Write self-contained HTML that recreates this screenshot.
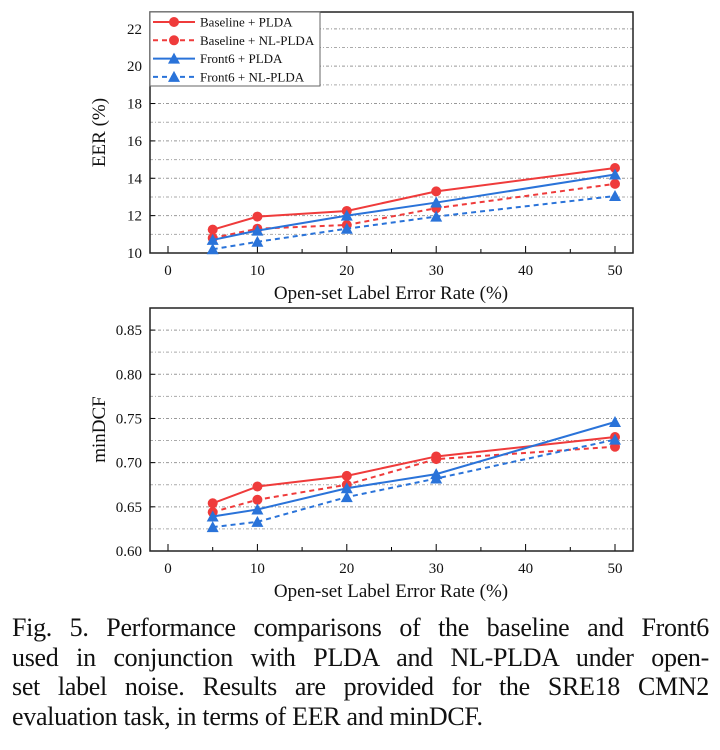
<!DOCTYPE html>
<html><head><meta charset="utf-8"><style>
body{margin:0;width:720px;height:750px;background:#fff;overflow:hidden;font-family:"Liberation Serif",serif}
#cap{position:absolute;left:12px;top:613px;width:697px;font-size:26px;line-height:29.5px;color:#111;letter-spacing:-0.3px}
#cap div{text-align:justify;text-align-last:justify;white-space:nowrap}
#cap div.last{text-align-last:left}
</style></head><body>
<svg id="svg" width="720" height="610" style="position:absolute;left:0;top:0" font-family="Liberation Serif, serif"></svg>
<div id="cap"><div>Fig. 5. Performance comparisons of the baseline and Front6</div><div>used in conjunction with PLDA and NL-PLDA under open-</div><div>set label noise. Results are provided for the SRE18 CMN2</div><div class="last">evaluation task, in terms of EER and minDCF.</div></div>
<script>
const xVals=[5,10,20,30,50];
const xTicks=[0,10,20,30,40,50];
const seriesNames=["Baseline + PLDA","Baseline + NL-PLDA","Front6 + PLDA","Front6 + NL-PLDA"];
const eerBasePLDA=[11.25,11.95,12.25,13.3,14.55];
const eerBaseNL=[10.8,11.3,11.5,12.4,13.7];
const eerFrontPLDA=[10.7,11.2,12.0,12.7,14.2];
const eerFrontNL=[10.2,10.6,11.3,11.95,13.05];
const eerTicks=[10,12,14,16,18,20,22];
const dcfBasePLDA=[0.654,0.673,0.685,0.707,0.729];
const dcfBaseNL=[0.644,0.658,0.675,0.704,0.718];
const dcfFrontPLDA=[0.639,0.647,0.671,0.687,0.746];
const dcfFrontNL=[0.627,0.633,0.661,0.682,0.726];
const dcfTicks=[0.60,0.65,0.70,0.75,0.80,0.85];

const svg=document.getElementById('svg');
const NS='http://www.w3.org/2000/svg';
function mk(t,a,p){const e=document.createElementNS(NS,t);for(const k in a)e.setAttribute(k,a[k]);(p||svg).appendChild(e);return e;}
const RED='#ef3b3b',BLUE='#2a73d9';
const styles=[{c:RED,d:null,m:'c'},{c:RED,d:'5,4',m:'c'},{c:BLUE,d:null,m:'t'},{c:BLUE,d:'5,4',m:'t'}];
function marker(g,m,c,x,y){
  if(m==='c'){return mk('circle',{cx:x,cy:y,r:5,fill:c},g);}
  return mk('polygon',{points:`${x},${y-6} ${x+6},${y+5} ${x-6},${y+5}`,fill:c},g);
}
function chart(o){
  const L=150,R=633,T=o.top,B=o.bot;
  const xs=v=>168+(v-0)*(615-168)/50;
  const ys=v=>B-(v-o.ymin)*(B-T)/(o.ymax-o.ymin);
  const g=mk('g',{});
  for(let i=0;i<o.ticks.length;i++){
    const v=o.ticks[i];
    if(i>0){const gl=mk('line',{x1:L,x2:R,y1:ys(v),y2:ys(v),stroke:'#999','stroke-dasharray':'3,2,1,2','stroke-width':1},g);}
    if(i<o.ticks.length-1){const mv=v+o.step/2;const gl=mk('line',{x1:L,x2:R,y1:ys(mv),y2:ys(mv),stroke:'#aaa','stroke-dasharray':'3,2,1,2','stroke-width':1},g);}
    mk('line',{x1:L,x2:L+5,y1:ys(v),y2:ys(v),stroke:'#000'},g);
    const t=mk('text',{x:L-8,y:ys(v)+5,'text-anchor':'end','font-size':15,fill:'#111'},g);
    t.textContent=o.fmt(v);
    
  }
  for(const v of xTicks){
    mk('line',{x1:xs(v),x2:xs(v),y1:B,y2:B-7,stroke:'#000'},g);
    if(v<50)mk('line',{x1:xs(v+5),x2:xs(v+5),y1:B,y2:B-4,stroke:'#000'},g);
    const t=mk('text',{x:xs(v),y:B+22,'text-anchor':'middle','font-size':15,fill:'#111'},g);
    t.textContent=v;
    
  }
  mk('rect',{x:L,y:T,width:R-L,height:B-T,fill:'none',stroke:'#222','stroke-width':1.5},g);
  o.series.forEach((s,i)=>{
    const st=styles[i];
    const pts=xVals.map((x,j)=>xs(x)+','+ys(s[j])).join(' ');
    const pl=mk('polyline',{points:pts,fill:'none',stroke:st.c,'stroke-width':2,'stroke-dasharray':st.d||'none'},g);
    
    xVals.forEach((x,j)=>{const m=marker(g,st.m,st.c,xs(x),ys(s[j]));
      });
  });
  const xt=mk('text',{x:391,y:B+46,'text-anchor':'middle','font-size':19,fill:'#111'},g);
  xt.textContent='Open-set Label Error Rate (%)';
  
  const yt=mk('text',{x:0,y:0,'text-anchor':'middle','font-size':19,fill:'#111',transform:`translate(105,${(T+B)/2}) rotate(-90)`},g);
  yt.textContent=o.ylabel;
  
  if(o.legend){
    const lg=mk('g',{},g);
    
    mk('rect',{x:L,y:T,width:170,height:74,fill:'#fff',stroke:'#666','stroke-width':1},lg);
    seriesNames.forEach((n,i)=>{
      const st=styles[i],y=T+10+i*18.3;
      const e=mk('g',{},lg);
      
      mk('line',{x1:L+3,x2:L+45,y1:y,y2:y,stroke:st.c,'stroke-width':2,'stroke-dasharray':st.d||'none'},e);
      marker(e,st.m,st.c,L+24,y);
      const t=mk('text',{x:L+50,y:y+4.5,'font-size':13,fill:'#111'},e);t.textContent=n;
    });
  }
}
chart({name:'eer-chart',top:12,bot:253,ymin:10,ymax:22.9,ticks:eerTicks,step:2,fmt:v=>v,ylabel:'EER (%)',legend:true,
  series:[eerBasePLDA,eerBaseNL,eerFrontPLDA,eerFrontNL]});
chart({name:'mindcf-chart',top:308,bot:551,ymin:0.60,ymax:0.875,ticks:dcfTicks,step:0.05,fmt:v=>v.toFixed(2),ylabel:'minDCF',legend:false,
  series:[dcfBasePLDA,dcfBaseNL,dcfFrontPLDA,dcfFrontNL]});
</script>
</body></html>
